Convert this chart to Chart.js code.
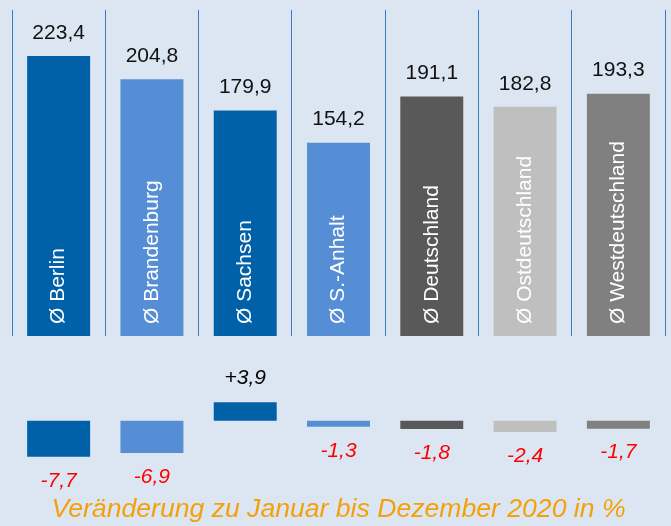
<!DOCTYPE html>
<html>
<head>
<meta charset="utf-8">
<script src="https://cdn.jsdelivr.net/npm/chart.js@4"></script>
<style>
  body { margin: 0; background: #dce6f2; }
  #wrap { position: relative; width: 671px; height: 526px; overflow: hidden; }
  canvas { position: absolute; left: 0; }
  #topChart { top: 0; }
  #bottomChart { top: 345px; }
</style>
</head>
<body>
<div id="wrap">
  <canvas id="topChart" width="671" height="345"></canvas>
  <canvas id="bottomChart" width="671" height="181"></canvas>
</div>
<script>
// Data
const categories = ['Ø Berlin', 'Ø Brandenburg', 'Ø Sachsen', 'Ø S.-Anhalt', 'Ø Deutschland', 'Ø Ostdeutschland', 'Ø Westdeutschland'];
const averages = [223.4, 204.8, 179.9, 154.2, 191.1, 182.8, 193.3];
const changes = [-7.7, -6.9, 3.9, -1.3, -1.8, -2.4, -1.7];
const barColors = ['#0061a8', '#568ed6', '#0061a8', '#568ed6', '#595959', '#bfbfbf', '#808080'];
const changeTitle = 'Veränderung zu Januar bis Dezember 2020 in %';

Chart.defaults.font.family = "'Liberation Sans', Arial, sans-serif";

function fmt(v, sign) {
    const s = Math.abs(v).toFixed(1).replace('.', ',');
    if (v < 0) return '-' + s;
    return sign ? '+' + s : s;
}

// values above bars + rotated category names inside bars
const topLabels = {
    id: 'topLabels',
    afterDatasetsDraw(chart) {
        const ctx = chart.ctx;
        const meta = chart.getDatasetMeta(0);
        ctx.save();
        meta.data.forEach((bar, i) => {
            ctx.font = "21px 'Liberation Sans', Arial, sans-serif";
            ctx.fillStyle = '#111';
            ctx.textAlign = 'center';
            ctx.textBaseline = 'middle';
            ctx.fillText(fmt(averages[i]), bar.x, bar.y - 23);

            ctx.save();
            ctx.translate(bar.x, bar.base - 12);
            ctx.rotate(-Math.PI / 2);
            ctx.fillStyle = '#ffffff';
            ctx.textAlign = 'left';
            ctx.fillText(categories[i], 0, 0);
            ctx.restore();
        });
        ctx.restore();
    }
};

// change labels
const changeLabels = {
    id: 'changeLabels',
    afterDatasetsDraw(chart) {
        const ctx = chart.ctx;
        const meta = chart.getDatasetMeta(0);
        ctx.save();
        ctx.font = "italic 21px 'Liberation Sans', Arial, sans-serif";
        ctx.textAlign = 'center';
        ctx.textBaseline = 'middle';
        meta.data.forEach((bar, i) => {
            const v = changes[i];
            if (v >= 0) {
                ctx.fillStyle = '#000';
                ctx.fillText(fmt(v, true), bar.x, bar.y - 24);
            } else {
                ctx.fillStyle = '#ff0000';
                ctx.fillText(fmt(v, true), bar.x, bar.y + 24);
            }
        });
        ctx.restore();
    }
};

const topChart = new Chart(document.getElementById('topChart').getContext('2d'), {
    type: 'bar',
    data: {
        labels: categories,
        datasets: [{
            data: averages,
            backgroundColor: barColors,
            barPercentage: 0.675,
            categoryPercentage: 1
        }]
    },
    options: {
        responsive: false,
        animation: false,
        layout: { padding: { left: 12, right: 6, top: 10, bottom: 9 } },
        plugins: { legend: { display: false }, tooltip: { enabled: false } },
        scales: {
            x: {
                grid: { color: '#3a7dc4', lineWidth: 1, drawTicks: false, offset: true },
                ticks: { display: false },
                border: { display: false }
            },
            y: { display: false, min: 0, max: 260 }
        }
    },
    plugins: [topLabels]
});

const bottomChart = new Chart(document.getElementById('bottomChart').getContext('2d'), {
    type: 'bar',
    data: {
        labels: categories,
        datasets: [{
            data: changes,
            backgroundColor: barColors,
            barPercentage: 0.675,
            categoryPercentage: 1
        }]
    },
    options: {
        responsive: false,
        animation: false,
        layout: { padding: { left: 12, right: 6, top: 38, bottom: 0 } },
        plugins: {
            legend: { display: false },
            tooltip: { enabled: false },
            title: {
                display: true,
                position: 'bottom',
                text: changeTitle,
                color: '#f5a00a',
                font: { size: 26.6, style: 'italic', weight: 'normal' },
                padding: { top: 17, bottom: 0 }
            }
        },
        scales: {
            x: { display: false },
            y: { display: false, min: -12, max: 8 }
        }
    },
    plugins: [changeLabels]
});
</script>
</body>
</html>
